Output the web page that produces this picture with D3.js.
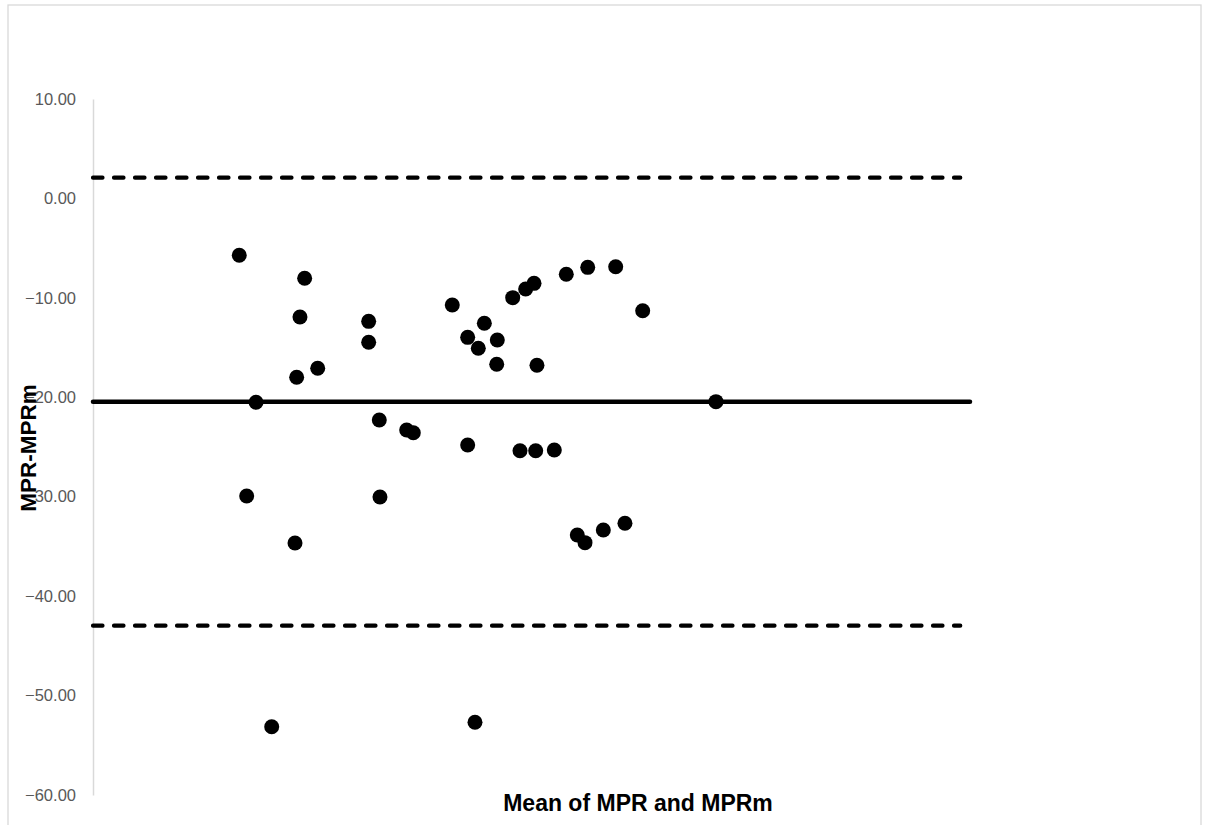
<!DOCTYPE html>
<html>
<head>
<meta charset="utf-8">
<script src="https://cdn.jsdelivr.net/npm/d3@7"></script>
<style>
  html, body { margin: 0; padding: 0; background: #fff; }
  svg { display: block; }
</style>
</head>
<body>
<script>
// Bland–Altman agreement plot: difference vs mean of MPR and MPRm
const meanValues = [
  15.01, 15.77, 16.73, 18.34, 21.72, 20.90, 20.73, 21.24, 23.06, 28.29,
  28.29, 29.38, 29.45, 32.19, 32.87, 36.87, 38.45, 38.45, 39.20, 39.54,
  40.16, 41.49, 41.43, 43.07, 43.82, 44.40, 45.26, 45.56, 45.43, 47.34,
  48.57, 49.70, 50.49, 50.77, 52.37, 53.64, 54.59, 56.41, 63.93
];
const diffValues = [
  -5.72, -29.93, -20.50, -53.13, -8.03, -17.99, -34.65, -11.93, -17.08, -12.36,
  -14.47, -22.28, -30.03, -23.29, -23.56, -10.72, -13.97, -24.80, -52.69, -15.07,
  -12.56, -14.24, -16.68, -9.98, -25.37, -9.11, -8.54, -16.78, -25.37, -25.30,
  -7.63, -33.85, -34.62, -6.93, -33.35, -6.87, -32.67, -11.29, -20.44
];
const meanDiff = -20.44;
const upperLimit = 2.09;
const lowerLimit = -42.97;
const yTicks = [10, 0, -10, -20, -30, -40, -50, -60];
const xDomain = [0, 90];
const limitEnd = 89;   // x where the limits of agreement stop
const meanEnd = 90;    // x where the mean-difference line stops

const W = 1206, H = 825;
const svg = d3.select("body").append("svg").attr("width", W).attr("height", H);

// outer chart frame
svg.append("rect")
  .attr("x", 8).attr("y", 5).attr("width", 1193).attr("height", 840)
  .attr("fill", "none").attr("stroke", "#d9d9d9").attr("stroke-width", 1.3);

const x = d3.scaleLinear().domain(xDomain).range([93, 970]);
const y = d3.scaleLinear().domain([-60, 10]).range([795, 99]);

// vertical axis
const yAxis = d3.axisLeft(y).tickValues(yTicks).tickSize(0).tickPadding(17)
  .tickFormat(d3.format(".2f"));
const gy = svg.append("g").attr("transform", `translate(${x(0)},0)`).call(yAxis);
gy.select(".domain").attr("stroke", "#d9d9d9").attr("stroke-width", 1.5);
gy.selectAll("text")
  .attr("fill", "#595959")
  .style("font-family", "'Liberation Sans', Arial, sans-serif")
  .style("font-size", "16.5px");

// limits of agreement (dashed) and mean difference (solid)
const line = d3.line().x(d => x(d[0])).y(d => y(d[1]));
[upperLimit, lowerLimit].forEach(v => {
  svg.append("path")
    .attr("d", line([[0, v], [limitEnd, v]]))
    .attr("fill", "none").attr("stroke", "#000").attr("stroke-width", 4.2)
    .attr("stroke-dasharray", "9.5,11.5").attr("stroke-linecap", "round");
});
svg.append("path")
  .attr("d", line([[0, meanDiff], [meanEnd, meanDiff]]))
  .attr("fill", "none").attr("stroke", "#000").attr("stroke-width", 4.5)
  .attr("stroke-linecap", "round");

// observations
svg.append("g").selectAll("circle")
  .data(meanValues.map((m, i) => [m, diffValues[i]]))
  .join("circle")
  .attr("cx", d => x(d[0])).attr("cy", d => y(d[1]))
  .attr("r", 7.5).attr("fill", "#000");

// axis titles
svg.append("text")
  .attr("x", 638).attr("y", 805)
  .attr("text-anchor", "middle").attr("dominant-baseline", "middle")
  .style("font-family", "'Liberation Sans', Arial, sans-serif")
  .style("font-size", "23px").style("font-weight", "bold")
  .text("Mean of MPR and MPRm");

svg.append("text")
  .attr("transform", "translate(30,448) rotate(-90)")
  .attr("text-anchor", "middle").attr("dominant-baseline", "middle")
  .style("font-family", "'Liberation Sans', Arial, sans-serif")
  .style("font-size", "22.5px").style("font-weight", "bold")
  .text("MPR-MPRm");
</script>
</body>
</html>
